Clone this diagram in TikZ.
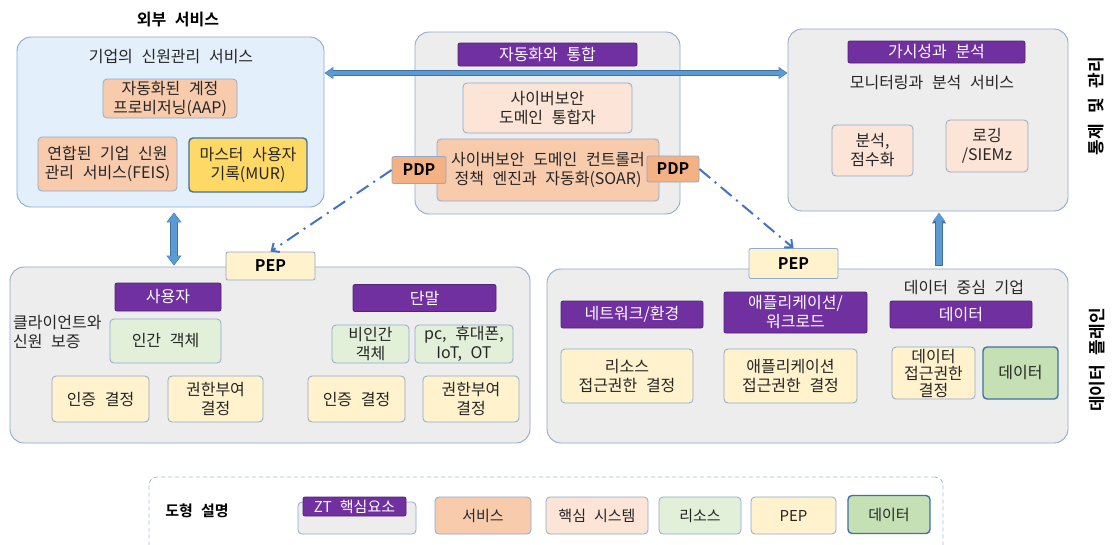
\documentclass[tikz,border=0pt]{standalone}
\usepackage{fontspec}
\setmainfont{Noto Sans CJK KR}[BoldFont={Noto Sans CJK KR Bold}, WordSpace=2.4]
\usetikzlibrary{arrows.meta,calc}
\definecolor{pfill}{HTML}{E3EFFA}
\definecolor{gfill}{HTML}{EDEDED}
\definecolor{pbord}{HTML}{8FAACB}
\definecolor{purp}{HTML}{7030A0}
\definecolor{svcc}{HTML}{F8CBAD}
\definecolor{corec}{HTML}{FCE4D6}
\definecolor{resc}{HTML}{E2F0D9}
\definecolor{pepc}{HTML}{FFF2CC}
\definecolor{datc}{HTML}{C5E0B4}
\definecolor{goldc}{HTML}{FFD966}
\definecolor{pdpc}{HTML}{F4B183}
\definecolor{abl}{HTML}{5B9BD5}
\definecolor{dbl}{HTML}{4472C4}
\definecolor{dkbord}{HTML}{41719C}
\definecolor{legbord}{HTML}{9DC3E6}
\tikzset{
  fnt/.style={font=\fontsize{16}{19}\selectfont},
  panel/.style={draw=pbord, line width=0.9pt, rounded corners=14pt, fill=gfill, inner sep=0pt},
  box/.style={draw=pbord, line width=0.8pt, rounded corners=4pt, align=center, inner sep=1pt, fnt, text=black!85},
  sz/.style 2 args={minimum width=#1pt, minimum height=#2pt},
  svcbox/.style={box, fill=svcc},
  corebox/.style={box, fill=corec},
  resbox/.style={box, fill=resc},
  pepbox/.style={box, fill=pepc},
  databox/.style={box, fill=datc, draw=dkbord, line width=1.4pt},
  goldbox/.style={box, fill=goldc, draw=dkbord, line width=1.4pt},
  pdpbox/.style={box, fill=pdpc, font=\fontsize{16}{19}\selectfont\bfseries, text=black, rounded corners=2pt},
  pepbig/.style={box, fill=pepc, font=\fontsize{16}{19}\selectfont\bfseries, text=black, rounded corners=2pt},
  plabel/.style={box, fill=purp, draw=purp!75!black, text=white, rounded corners=2pt},
  txt/.style={align=center, inner sep=0pt, fnt, text=black!85},
  blockarrow/.style={draw=abl, line width=#1},
  dasharrow/.style={draw=dbl, line width=2pt, dash pattern=on 14pt off 6pt on 2pt off 6pt, -{Straight Barb[length=6pt,width=11pt]}},
}
\begin{document}
\begin{tikzpicture}[x=1pt,y=-1pt]
\useasboundingbox (0,0) rectangle (1115,544);
\fill[white] (0,0) rectangle (1115,544);

% ---------- panels ----------
\node[panel, fill=pfill, sz={307}{170}] (tl) at (170.5,122) {};
\node[panel, sz={265}{182}] (tm) at (547.5,123) {};
\node[panel, sz={280}{182}] (tr) at (928,120) {};
\node[panel, sz={520}{176}] (bl) at (270,355) {};
\node[panel, sz={521}{174}] (br) at (807.5,356) {};

% ---------- big arrows ----------
\coordinate (hy) at (0,73);
\coordinate (vx) at (174,0);
\coordinate (ux) at (939,0);
\draw[draw=dkbord, line width=5.4pt, {Triangle[length=9pt,width=11.5pt]}-{Triangle[length=9pt,width=11.5pt]}] (tl.east |- hy) -- (tr.west |- hy);
\draw[blockarrow=4pt, {Triangle[length=7.5pt,width=9.5pt]}-{Triangle[length=7.5pt,width=9.5pt]}] ($(tl.east |- hy)+(1,0)$) -- ($(tr.west |- hy)+(-1,0)$);
\draw[draw=dkbord, line width=7.2pt, {Triangle[length=10pt,width=14.5pt]}-{Triangle[length=10pt,width=14.5pt]}] ($(tl.south -| vx)+(0,5)$) -- ($(bl.north -| vx)+(0,-1)$);
\draw[blockarrow=6pt, {Triangle[length=8.5pt,width=12.5pt]}-{Triangle[length=8.5pt,width=12.5pt]}] ($(tl.south -| vx)+(0,6)$) -- ($(bl.north -| vx)+(0,-2)$);
\draw[draw=dkbord, line width=7.2pt, -{Triangle[length=10pt,width=13.5pt]}] ($(br.north -| ux)+(0,-3)$) -- ($(tr.south -| ux)+(0,2)$);
\draw[blockarrow=6pt, -{Triangle[length=8.5pt,width=11.5pt]}] ($(br.north -| ux)+(0,-3.6)$) -- ($(tr.south -| ux)+(0,1)$);

% ---------- top left ----------
\node[txt, font=\fontsize{16}{19}\selectfont\bfseries, text=black] (ext) at (178,20) {외부 서비스};
\node[txt] (tltitle) at (171,57) {기업의 신원관리 서비스};
\node[svcbox, sz={134}{39}] (aap) at (170,98.5) {자동화된 계정\\프로비저닝(AAP)};
\node[svcbox, sz={139}{54}] (feis) at (107.5,164) {연합된 기업 신원\\관리 서비스(FEIS)};
\node[goldbox, sz={118}{54}] (mur) at (248,165) {마스터 사용자\\기록(MUR)};

% ---------- top middle ----------
\node[plabel, sz={179}{23}] (auto) at (547.5,54.5) {자동화와 통합};
\node[corebox, sz={169}{50}] (integ) at (547.5,108) {사이버보안\\도메인 통합자};
\node[svcbox, sz={222}{62}] (soar) at (548,170) {사이버보안 도메인 컨트롤러\\정책 엔진과 자동화(SOAR)};
\node[pdpbox, sz={54}{27}] (pdpl) at (419,170) {PDP};
\node[pdpbox, sz={52}{26}] (pdpr) at (673,169) {PDP};

% ---------- top right ----------
\node[plabel, sz={177}{22}] (vis) at (936.5,52) {가시성과 분석};
\node[txt] (mon) at (932,83) {모니터링과 분석 서비스};
\node[corebox, sz={81}{51}] (anal) at (872.5,150.5) {분석,\\점수화};
\node[corebox, sz={82}{52}] (logg) at (987,146) {로깅\\/SIEMz};

% ---------- side labels ----------
\node[txt, font=\fontsize{17}{19}\selectfont\bfseries, text=black, rotate=90] (ctrl) at (1096,106) {통제\hspace{10pt}및\hspace{10pt}관리};
\node[txt, font=\fontsize{17}{19}\selectfont\bfseries, text=black, rotate=90] (dplane) at (1097,360) {데이터\hspace{10pt}플레인};

% ---------- bottom left ----------
\node[pepbig, sz={89}{28}] (pepl) at (270.5,266) {PEP};
\node[plabel, sz={106}{28}] (user) at (168,297) {사용자};
\node[txt, align=left, anchor=west] (client) at (13,332) {클라이언트와\\신원 보증};
\node[resbox, sz={111}{44}] (human) at (165.5,341) {인간 객체};
\node[pepbox, sz={97}{46}] (auth1) at (100.5,399) {인증 결정};
\node[pepbox, sz={95}{46}] (authz1) at (215.5,399) {권한부여\\결정};
\node[plabel, sz={143}{27}] (dev) at (424.5,298) {단말};
\node[resbox, sz={77}{38}] (nonh) at (370.5,344) {비인간\\객체};
\node[resbox, sz={98}{38}] (pc) at (464,344) {pc, 휴대폰,\\IoT, OT};
\node[pepbox, sz={97}{46}] (auth2) at (356.5,399) {인증 결정};
\node[pepbox, sz={96}{46}] (authz2) at (471,399) {권한부여\\결정};

% ---------- bottom right ----------
\node[pepbig, sz={89}{30}] (pepr) at (793.5,263.5) {PEP};
\node[txt] (dce) at (964,288) {데이터 중심 기업};
\node[plabel, sz={142}{27}] (net) at (632,314.5) {네트워크/환경};
\node[plabel, sz={143}{41}] (app) at (795.5,312.5) {애플리케이션/\\워크로드};
\node[plabel, sz={142}{27}] (datl) at (961,314.5) {데이터};
\node[pepbox, sz={132}{54}] (resacc) at (627,376) {리소스\\접근권한 결정};
\node[pepbox, sz={133}{54}] (appacc) at (790.5,376) {애플리케이션\\접근권한 결정};
\node[pepbox, sz={83}{52}, font=\fontsize{16}{17}\selectfont] (datacc) at (933.5,373) {데이터\\접근권한\\결정};
\node[databox, sz={75}{52}] (datg) at (1020.5,373) {데이터};

% ---------- dash-dot connectors ----------
\draw[dasharrow] (pdpl.west) -- (pepl.north);
\draw[dasharrow] (pdpr.east) -- (pepr.north);

% ---------- legend ----------
\node[draw=legbord, line width=0.9pt, dash pattern=on 4pt off 3pt, rounded corners=8pt, minimum width=794pt, minimum height=100pt, inner sep=0pt] (legend) at (546,527) {};
\node[txt, font=\fontsize{15}{17}\selectfont\bfseries, text=black] (legt) at (197,511) {도형 설명};
\node[box, fill=gfill, sz={118}{32}] (lgray) at (357,518) {};
\node[plabel, sz={103}{19}, font=\fontsize{15}{17}\selectfont] (lzt) at (354.5,506.5) {ZT 핵심요소};
\node[svcbox, sz={96}{37}, font=\fontsize{15}{17}\selectfont] (lsvc) at (483,515.5) {서비스};
\node[corebox, sz={102}{37}, font=\fontsize{15}{17}\selectfont] (lcore) at (597,515.5) {핵심 시스템};
\node[resbox, sz={82}{37}, font=\fontsize{15}{17}\selectfont] (lres) at (700,515.5) {리소스};
\node[pepbox, sz={85}{37}, font=\fontsize{15}{17}\selectfont] (lpep) at (793.5,515.5) {PEP};
\node[databox, sz={82}{38}, font=\fontsize{15}{17}\selectfont] (ldat) at (889,514.5) {데이터};
\end{tikzpicture}
\end{document}
